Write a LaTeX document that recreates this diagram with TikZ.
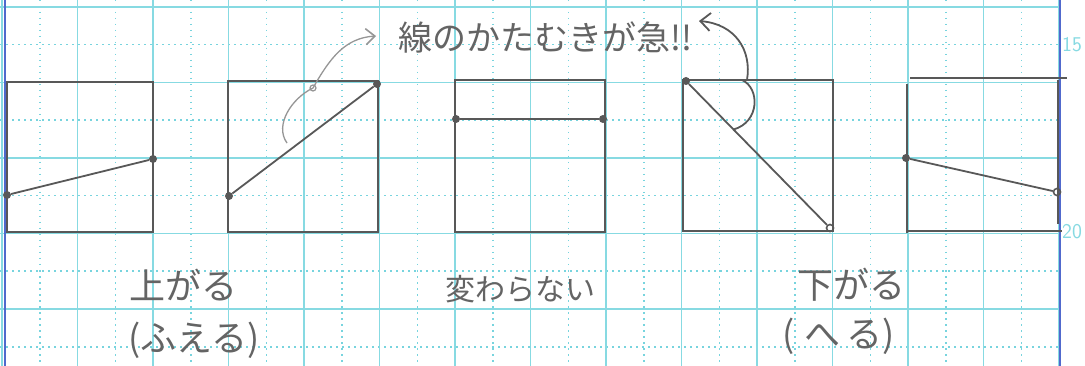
\documentclass[tikz,border=0pt]{standalone}
\usepackage{fontspec}
\newfontfamily\jp{Noto Sans CJK JP}
\usetikzlibrary{arrows.meta,calc}
\definecolor{gridc}{RGB}{135,218,226}
\definecolor{griddotc}{RGB}{120,212,222}
\definecolor{marginc}{RGB}{80,105,205}
\definecolor{pencil}{RGB}{88,88,88}
\definecolor{textpencil}{RGB}{100,100,100}
\definecolor{lightpencil}{RGB}{150,150,150}
\tikzset{
  gridsolid/.style={gridc, line width=1.6pt},
  griddot/.style={griddotc, line width=1.5pt, dash pattern=on 1.5pt off 4.5pt},
  marginline/.style={marginc, line width=2.4pt},
  boxline/.style={pencil, line width=2.5pt},
  graphline/.style={pencil, line width=1.8pt},
  dotpt/.style={circle, fill=pencil, inner sep=0pt, minimum size=8pt},
  looppt/.style={circle, draw=pencil, line width=1.6pt, inner sep=0pt, minimum size=7pt},
  biglabel/.style={font=\jp\fontsize{36}{40}\selectfont, text=textpencil, inner sep=0pt},
  midlabel/.style={font=\jp\fontsize{30}{34}\selectfont, text=textpencil, inner sep=0pt},
  notelabel/.style={font=\jp\fontsize{34}{38}\selectfont, text=textpencil, inner sep=0pt},
  pagenum/.style={font=\sffamily\fontsize{21}{21}\selectfont, text=gridc, inner sep=0pt},
}
\begin{document}
\begin{tikzpicture}[x=1pt,y=-1pt]
\useasboundingbox (0,0) rectangle (1085,366);
\fill[white] (0,0) rectangle (1085,366);
% grid paper
\foreach \i in {0,...,13} { \draw[griddot] ({39.75+75.5*\i},0) -- ({39.75+75.5*\i},366); }
\foreach \j in {0,...,4} { \draw[griddot] (0,{44.75+75.5*\j}) -- (1060,{44.75+75.5*\j}); }
\foreach \i in {0,...,14} { \draw[gridsolid] ({2+75.5*\i},0) -- ({2+75.5*\i},366); }
\foreach \j in {0,...,4} { \draw[gridsolid] (0,{7+75.5*\j}) -- (1060,{7+75.5*\j}); }
\draw[marginline] (5,0) -- (5,366);
\draw[marginline] (1060,0) -- (1060,366);
\node[pagenum] (n15) at (1072,45) {15};
\node[pagenum] (n20) at (1072,232) {20};

% box 1 : rising gently
\draw[boxline] (7,82) rectangle (153,232);
\node[dotpt] (a1) at (7,195) {};
\node[dotpt] (a2) at (153,159) {};
\draw[graphline] (a1) -- (a2);

% box 2 : rising steeply
\draw[boxline] (228,81) rectangle (378,232);
\node[dotpt] (b1) at (229,196) {};
\node[dotpt] (b2) at (377,84) {};
\draw[graphline] (b1) -- (b2);

% box 3 : flat
\draw[boxline] (455,80) rectangle (605,232);
\node[dotpt] (c1) at (456,119) {};
\node[dotpt] (c2) at (603,119) {};
\draw[graphline] (c1) -- (c2);

% box 4 : falling steeply
\draw[boxline] (683,80) rectangle (833,231);
\node[dotpt] (d1) at (686,81) {};
\node[looppt] (d2) at (830,228) {};
\draw[graphline] (d1) -- (d2);

% box 5 : falling gently
\draw[boxline] (910,78) -- (1067,78);
\draw[boxline] (907,84) -- (907,233);
\draw[boxline] (908,231) -- (1062,231);
\draw[boxline] (1058,80) -- (1058,224);
\node[dotpt] (e1) at (906,158) {};
\node[looppt] (e2) at (1057,192) {};
\draw[graphline] (e1) -- (e2);

% annotation
\node[notelabel] (note) at (545,37) {線のかたむきが急!!};
\coordinate (s2) at (287,143);
\coordinate (loop2) at (313,88);
\coordinate (t2) at (376,36);
\draw[lightpencil, line width=1.3pt, -{Straight Barb[length=9pt,width=16pt,line width=1.6pt]}]
  (s2) .. controls (274,125) and (292,98) .. (loop2)
       .. controls (330,58) and (345,38) .. (t2);
\draw[lightpencil, line width=1.2pt] (loop2) circle (3pt);

\coordinate (angA) at (742,80);
\coordinate (angB) at ($(d1)!0.33!(d2)$);
\draw[graphline] (angA) .. controls (760,88) and (760,122) .. (angB);
\coordinate (s4) at (747,80);
\coordinate (t4) at (699,21);
\draw[graphline, -{Straight Barb[length=10pt,width=18pt,line width=1.8pt]}]
  (s4) .. controls (752,50) and (735,24) .. (t4);

% labels
\node[biglabel] (up1) at (183,285) {上がる};
\node[biglabel] (up2) at (194,340) {(ふえる)};
\node[midlabel] (same) at (520,289) {変わらない};
\node[biglabel] (down1) at (851,285) {下がる};
\node[biglabel] (down2) at (839,336) {(\hspace{10pt}へ\hspace{6pt}る)};
\end{tikzpicture}
\end{document}
